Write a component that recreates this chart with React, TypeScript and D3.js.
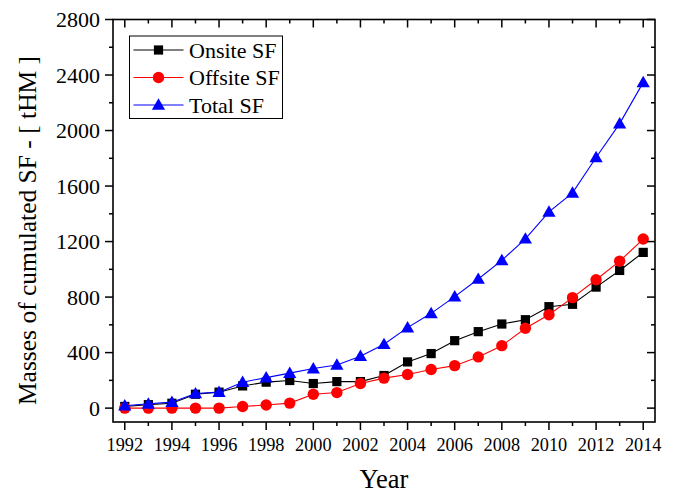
import React from "react";
import * as d3 from "d3";

const years = [1992,1993,1994,1995,1996,1997,1998,1999,2000,2001,2002,2003,2004,2005,2006,2007,2008,2009,2010,2011,2012,2013,2014];
const onsite = [12,25,35,100,115,160,187,199,177,191,191,235,333,393,486,551,606,637,731,748,872,992,1122];
const offsite = [0,0,0,0,0,12,22,36,100,112,177,216,242,278,306,369,450,575,673,796,925,1059,1218];
const total = [17,31,43,105,115,187,220,252,285,311,374,460,580,683,803,930,1065,1220,1414,1551,1806,2050,2347];
const yTicks = [0,400,800,1200,1600,2000,2400,2800];
const yMinor = [200,600,1000,1400,1800,2200,2600];
const xTicks = [1992,1994,1996,1998,2000,2002,2004,2006,2008,2010,2012,2014];
const seriesNames = ["Onsite SF","Offsite SF","Total SF"];
const seriesColors = ["#000000","#ff0000","#0000ff"];

const W = 677, H = 494;
const L = 113, R = 655, T = 19.5, B = 422;
const FONT = "'Liberation Serif','Times New Roman',serif";

function Marker({ kind, x, y, color }: { kind: number; x: number; y: number; color: string }) {
  if (kind === 0) return <rect x={x - 4.6} y={y - 4.6} width={9.2} height={9.2} fill={color} />;
  if (kind === 1) return <circle cx={x} cy={y} r={5.7} fill={color} />;
  const s = d3.symbol().type(d3.symbolTriangle).size(76)();
  return <path d={s as string} transform={`translate(${x},${y + 1})`} fill={color} />;
}

export default function App() {
  const x = d3.scaleLinear().domain([1991.5, 2014.5]).range([L, R]);
  const y = d3.scaleLinear().domain([-100, 2800]).range([B, T]);
  const line = d3.line<number>().x((_, i) => x(years[i])).y((d) => y(d));
  const data = [onsite, offsite, total];
  const allYears = d3.range(1992, 2015);
  return (
    <svg width={W} height={H} style={{ position: "absolute", left: 0, top: 0, background: "#fff" }} fontFamily={FONT}>
      <rect width={W} height={H} fill="#fff" />
      {data.map((s, k) => (
        <g key={k}>
          <path d={line(s) as string} fill="none" stroke={seriesColors[k]} strokeWidth={1.1} />
          {s.map((v, i) => (
            <Marker key={i} kind={k} x={x(years[i])} y={y(v)} color={seriesColors[k]} />
          ))}
        </g>
      ))}
      <rect x={L} y={T} width={R - L} height={B - T} fill="none" stroke="#000" strokeWidth={1.6} />
      {allYears.map((yr) => {
        const major = yr % 2 === 0;
        const len = major ? 8 : 4;
        return (
          <g key={yr}>
            <line x1={x(yr)} x2={x(yr)} y1={B} y2={B + len} stroke="#000" strokeWidth={1.5} />
            <line x1={x(yr)} x2={x(yr)} y1={T} y2={T + len} stroke="#000" strokeWidth={1.5} />
          </g>
        );
      })}
      {xTicks.map((t) => (
        <text key={t} x={x(t)} y={451} textAnchor="middle" fontSize={18.3}>{t}</text>
      ))}
      {yTicks.map((t) => (
        <g key={t}>
          <line x1={L - 8} x2={L} y1={y(t)} y2={y(t)} stroke="#000" strokeWidth={1.5} />
          <line x1={R - 8} x2={R} y1={y(t)} y2={y(t)} stroke="#000" strokeWidth={1.5} />
          <text x={100} y={y(t)} dy="0.35em" textAnchor="end" fontSize={22}>{t}</text>
        </g>
      ))}
      {yMinor.map((t) => (
        <g key={t}>
          <line x1={L - 4} x2={L} y1={y(t)} y2={y(t)} stroke="#000" strokeWidth={1.5} />
          <line x1={R - 4} x2={R} y1={y(t)} y2={y(t)} stroke="#000" strokeWidth={1.5} />
        </g>
      ))}
      <text x={384} y={488} textAnchor="middle" fontSize={26.5}>Year</text>
      <text transform="translate(36,230.5) rotate(-90)" textAnchor="middle" fontSize={25.5}>Masses of cumulated SF - [ tHM ]</text>
      <rect x={129.5} y={36} width={153} height={82.5} fill="#fff" stroke="#000" strokeWidth={1} />
      {seriesNames.map((n, k) => {
        const ry = 50 + k * 27.5;
        return (
          <g key={n}>
            <line x1={133.5} x2={183.5} y1={ry} y2={ry} stroke={seriesColors[k]} strokeWidth={1.1} />
            <Marker kind={k} x={158.5} y={ry} color={seriesColors[k]} />
            <text x={189} y={ry} dy="0.35em" fontSize={22}>{n}</text>
          </g>
        );
      })}
    </svg>
  );
}
